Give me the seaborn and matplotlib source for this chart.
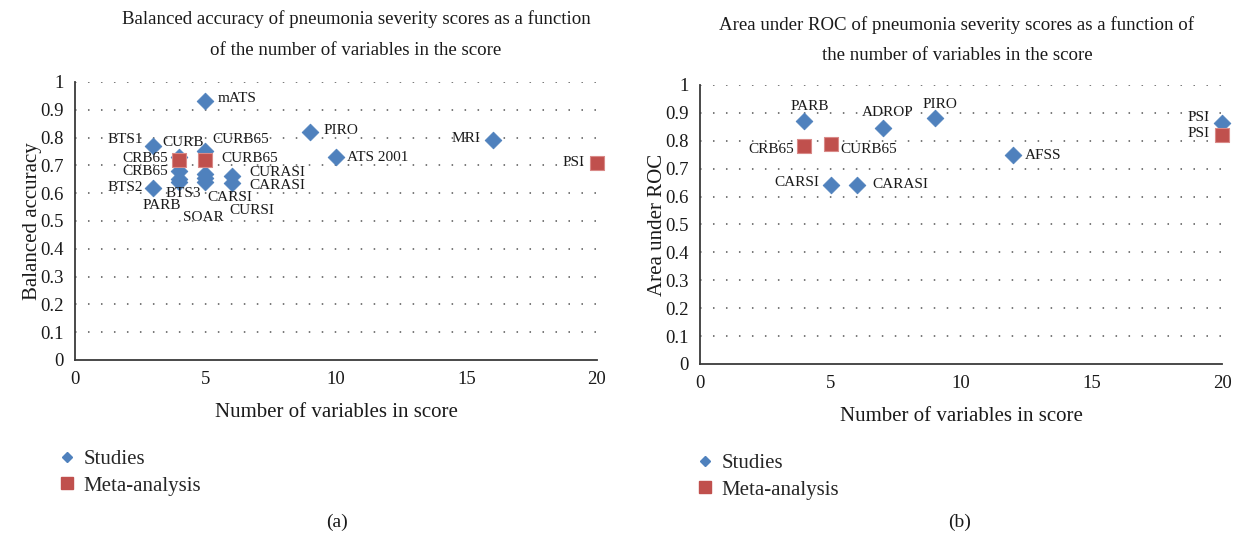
import pandas as pd
import matplotlib
matplotlib.use('Agg')
import matplotlib.pyplot as plt
from matplotlib.lines import Line2D
import seaborn as sns

# Panel (a): balanced accuracy
a_scores = ['mATS', 'PIRO', 'ATS 2001', 'MRI', 'BTS1', 'CURB', 'CURB65', 'CRB65',
            'BTS2', 'BTS3', 'PARB', 'SOAR', 'CARSI', 'CURSI', 'CURASI', 'CARASI',
            'CRB65', 'CURB65', 'PSI']
a_nvars = [5, 9, 10, 16, 3, 4, 5, 4, 3, 4, 4, 5, 5, 5, 6, 6, 4, 5, 20]
a_values = [0.93, 0.82, 0.73, 0.79, 0.77, 0.73, 0.75, 0.68, 0.62, 0.65, 0.64,
            0.64, 0.655, 0.67, 0.66, 0.635, 0.72, 0.72, 0.71]
a_source = ['Studies'] * 16 + ['Meta-analysis'] * 3

# Panel (b): area under ROC
b_scores = ['PARB', 'ADROP', 'PIRO', 'CARSI', 'CARASI', 'AFSS', 'PSI',
            'CRB65', 'CURB65', 'PSI']
b_nvars = [4, 7, 9, 5, 6, 12, 20, 4, 5, 20]
b_values = [0.87, 0.845, 0.88, 0.64, 0.64, 0.75, 0.865, 0.78, 0.79, 0.82]
b_source = ['Studies'] * 7 + ['Meta-analysis'] * 3

# label offsets in pixels (dx, dy, ha)
a_offsets = [(12, 3, 'left'), (14, 2, 'left'), (11, 0, 'left'), (-12, 2, 'right'),
             (-10, 6, 'right'), (4, 15, 'center'), (7, 12, 'left'), (-11, -1, 'right'),
             (-10, 0, 'right'), (4, -14, 'center'), (-18, -23, 'center'), (-2, -35, 'center'),
             (2, -20, 'left'), (24, -37, 'left'), (18, 4, 'left'), (18, -2, 'left'),
             (-11, 1, 'right'), (16, 1, 'left'), (-12, 0, 'right')]
b_offsets = [(5, 15, 'center'), (5, 16, 'center'), (5, 14, 'center'), (-11, 3, 'right'),
             (16, 1, 'left'), (12, -1, 'left'), (-12, 5, 'right'),
             (-10, -3, 'right'), (10, -6, 'left'), (-12, 2, 'right')]

BLUE = '#4F81BD'
RED = '#C0504D'
INK = '#1a1a1a'

sns.set_theme(style='white')
plt.rcParams['font.family'] = ['Liberation Serif', 'DejaVu Serif']

fig = plt.figure(figsize=(12.41, 5.41), dpi=100)
ax_a = fig.add_axes([0.0604, 0.3346, 0.4206, 0.5139])
ax_b = fig.add_axes([0.5641, 0.3272, 0.4206, 0.5157])


def draw_panel(ax, scores, nvars, values, source, offsets, ylabel):
    df = pd.DataFrame({'score': scores, 'n': nvars, 'value': values, 'source': source})
    # dotted gridlines, only across the data range
    for g in [i / 10 for i in range(1, 11)]:
        ax.plot([0, 20], [g, g], color='#555555', lw=1.1, ls=(0, (1, 7.5)), zorder=0)
    st = df[df['source'] == 'Studies']
    me = df[df['source'] == 'Meta-analysis']
    sns.scatterplot(data=st, x='n', y='value', marker='D', color=BLUE, s=72,
                    edgecolor=BLUE, linewidth=0.6, legend=False, ax=ax, clip_on=False, zorder=3)
    sns.scatterplot(data=me, x='n', y='value', marker='s', color=RED, s=105,
                    edgecolor='#D98A88', linewidth=0.8, legend=False, ax=ax, clip_on=False, zorder=4)
    for (name, x, y), (dx, dy, ha) in zip(df[['score', 'n', 'value']].values, offsets):
        ax.annotate(name, (x, y), xytext=(dx, dy), textcoords='offset pixels',
                    ha=ha, va='center', fontsize=11, color=INK, zorder=5)
    ax.set_xlim(0, 20)
    ax.set_ylim(0, 1)
    ax.set_xticks([0, 5, 10, 15, 20])
    ax.set_yticks([i / 10 for i in range(11)])
    ax.set_yticklabels(['0'] + ['0.%d' % i for i in range(1, 10)] + ['1'])
    ax.tick_params(length=0, labelsize=13.5, colors=INK, pad=8)
    for side in ['top', 'right']:
        ax.spines[side].set_visible(False)
    for side in ['left', 'bottom']:
        ax.spines[side].set_color('#3a3a3a')
        ax.spines[side].set_linewidth(1.3)
    ax.set_xlabel('Number of variables in score', fontsize=15, color=INK, labelpad=11)
    ax.set_ylabel(ylabel, fontsize=15, color=INK, labelpad=-1)


draw_panel(ax_a, a_scores, a_nvars, a_values, a_source, a_offsets, 'Balanced accuracy')
draw_panel(ax_b, b_scores, b_nvars, b_values, b_source, b_offsets, 'Area under ROC')

fig.text(356 / 1241, 1 - 34.5 / 541,
         'Balanced accuracy of pneumonia severity scores as a function\nof the number of variables in the score',
         ha='center', va='center', fontsize=13.6, color=INK, linespacing=2.12)
fig.text(957 / 1241, 1 - 40 / 541,
         'Area under ROC of pneumonia severity scores as a function of\nthe number of variables in the score',
         ha='center', va='center', fontsize=13.6, color=INK, linespacing=2.02)

handles = [Line2D([], [], marker='D', color=BLUE, ls='', markersize=5.5),
           Line2D([], [], marker='s', color=RED, ls='', markersize=8.5)]
for x0, y0 in [(0.0385, 0.0645), (0.5526, 0.057)]:
    fig.legend(handles, ['Studies', 'Meta-analysis'], loc='lower left',
               bbox_to_anchor=(x0, y0), frameon=False, fontsize=15,
               handlelength=0.8, handletextpad=0.4, labelspacing=0.35, borderpad=0)

fig.text(337 / 1241, 1 - 522 / 541, '(a)', ha='center', va='center', fontsize=14, color=INK)
fig.text(960 / 1241, 1 - 522 / 541, '(b)', ha='center', va='center', fontsize=14, color=INK)

fig.savefig('out.png', dpi=100)
